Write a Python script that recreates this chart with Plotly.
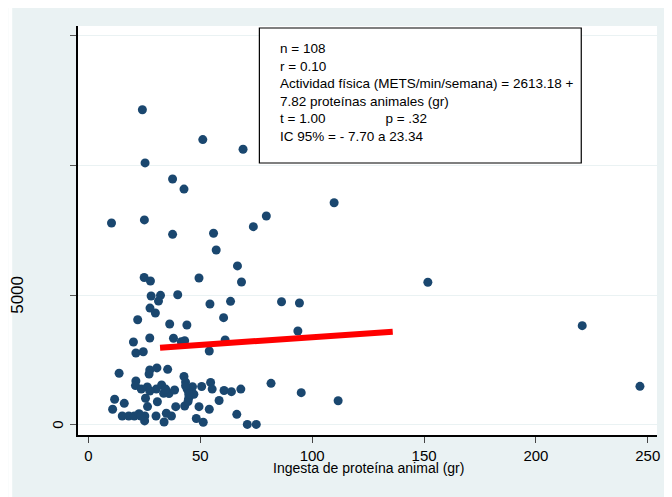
import plotly.graph_objects as go

# Data
protein_gr = [24.1, 51.1, 69.1, 25.3, 37.6, 42.7, 10.3, 25.0, 37.6, 55.9,
              57.1, 66.6, 79.5, 73.7, 109.8, 151.7, 24.9, 27.7, 49.4, 68.4,
              28.0, 32.2, 31.3, 39.9, 54.3, 63.5, 86.3, 94.3, 27.5, 29.9,
              22.0, 36.3, 44.0, 60.4, 93.6, 220.7, 20.1, 27.4, 38.0, 41.5,
              43.0, 61.1, 54.0, 21.2, 24.5, 13.7, 27.4, 27.1, 30.6, 35.4,
              21.2, 21.0, 23.6, 26.3, 30.3, 32.7, 33.6, 36.0, 38.5, 42.7,
              43.4, 44.1, 46.5, 46.4, 50.6, 54.6, 55.3, 60.6, 63.9, 68.1,
              81.6, 95.1, 47.1, 44.8, 11.7, 16.0, 25.5, 30.8, 26.4, 10.8,
              15.1, 18.0, 20.5, 22.6, 25.2, 25.1, 30.2, 34.8, 37.1, 33.8,
              39.0, 43.0, 44.5, 49.4, 54.0, 58.4, 48.2, 51.3, 66.3, 71.0,
              75.0, 111.6, 246.5, 43.4, 44.8, 34.5, 27.4, 23.4]
mets = [12150, 11000, 10625, 10100, 9480, 9090, 7780, 7900, 7345, 7385,
        6740, 6125, 8050, 7640, 8565, 5495, 5680, 5545, 5660, 5505,
        4965, 4990, 4770, 5015, 4655, 4760, 4745, 4695, 4500, 4310,
        4050, 3885, 3845, 4130, 3615, 3820, 3190, 3345, 3335, 3200,
        3240, 3270, 2845, 2765, 2815, 1985, 2110, 1955, 2190, 2135,
        1685, 1510, 1375, 1455, 1375, 1530, 1210, 1205, 1340, 1860,
        1645, 1375, 1465, 1210, 1475, 1630, 1375, 1320, 1275, 1375,
        1595, 1235, 1175, 1020, 980, 825, 1020, 885, 700, 595,
        335, 335, 335, 425, 335, 145, 335, 440, 335, 105,
        695, 720, 895, 695, 595, 935, 240, 95, 400, 10,
        10, 925, 1480, 1500, 1185, 1375, 1300, 335]

fit_x = [32, 136]
fit_y = [2970, 3590]

x_ticks = [0, 50, 100, 150, 200, 250]
y_ticks = [0, 5000, 10000, 15000]
y_tick_labels_shown = ["0", "5000"]

box_lines = [
    "n = 108",
    "r = 0.10",
    "Actividad física (METS/min/semana) = 2613.18 +",
    "7.82 proteínas animales (gr)",
    "t = 1.00" + "\u00a0" * 16 + "p = .32",
    "IC 95% = - 7.70 a 23.34",
]
x_title = "Ingesta de proteína animal (gr)"

BG = "#EAF2F3"
NAVY = "#1A476F"

# The page body keeps its default 8px margin, so the figure starts at (8, 8)
OFF = 8
W, H = 672 - OFF, 497 - OFF
L, R, T, B = 78 - OFF, 13, 26 - OFF, 62
pw, ph = W - L - R, H - T - B


def px2x(px_ref):
    return (px_ref - OFF - L) / pw


def py2y(py_ref):
    return (H - B - (py_ref - OFF)) / ph


fig = go.Figure()
fig.add_trace(go.Scatter(
    x=protein_gr, y=mets, mode="markers",
    marker=dict(color=NAVY, size=9, line=dict(width=0)),
    showlegend=False, hoverinfo="skip"))
fig.add_trace(go.Scatter(
    x=fit_x, y=fit_y, mode="lines",
    line=dict(color="#FF0000", width=6),
    showlegend=False, hoverinfo="skip"))

shapes = [
    # white strip at the left of the picture
    dict(type="rect", xref="paper", yref="paper", x0=px2x(OFF), x1=px2x(12),
         y0=py2y(497), y1=py2y(OFF), fillcolor="white", line=dict(width=0), layer="below"),
    # text box
    dict(type="rect", xref="paper", yref="paper", x0=px2x(260), x1=px2x(583),
         y0=py2y(163), y1=py2y(28), fillcolor="white",
         line=dict(color="black", width=1.2), layer="above"),
]

annotations = [
    dict(xref="paper", yref="paper", x=px2x(279), y=py2y(39), xanchor="left", yanchor="top",
         text="<br>".join(box_lines), showarrow=False, align="left",
         font=dict(family="Liberation Sans, Arial, sans-serif", size=13.5, color="black")),
    dict(xref="paper", yref="paper", x=px2x(370), y=py2y(468.5), xanchor="center", yanchor="middle",
         text=x_title, showarrow=False,
         font=dict(family="Liberation Sans, Arial, sans-serif", size=14, color="black")),
    dict(xref="paper", yref="y", x=px2x(16.5), y=y_ticks[1], xanchor="center", yanchor="middle",
         text=y_tick_labels_shown[1], textangle=-90, showarrow=False,
         font=dict(family="Liberation Sans, Arial, sans-serif", size=17, color="black")),
    dict(xref="paper", yref="y", x=px2x(58), y=y_ticks[0], xanchor="center", yanchor="middle",
         text=y_tick_labels_shown[0], textangle=-90, showarrow=False,
         font=dict(family="Liberation Sans, Arial, sans-serif", size=15, color="black")),
]

# axis ranges from the reference pixel scale (x: 0 at 88.5px, 2.245 px/unit;
# y: 0 at 424.7px, 0.02592 px/unit)
x_lo = (78 - 88.5) / 2.245
x_hi = (659 - 88.5) / 2.245
y_lo = (424.7 - 435) / 0.02592
y_hi = (424.7 - 26) / 0.02592

fig.update_layout(
    width=W, height=H,
    margin=dict(l=L, r=R, t=T, b=B, pad=0),
    paper_bgcolor=BG, plot_bgcolor="white",
    shapes=shapes, annotations=annotations,
    xaxis=dict(range=[x_lo, x_hi],
               tickmode="array", tickvals=x_ticks, ticktext=[str(v) for v in x_ticks],
               ticks="outside", ticklen=6, tickwidth=1.3, tickcolor="#444",
               showgrid=False, zeroline=False,
               showline=True, linecolor="black", linewidth=1.5,
               tickfont=dict(family="Liberation Sans, Arial, sans-serif", size=15, color="black")),
    yaxis=dict(range=[y_lo, y_hi],
               tickmode="array", tickvals=y_ticks, showticklabels=False,
               ticks="outside", ticklen=6, tickwidth=1.3, tickcolor="#555",
               showgrid=True, gridcolor=BG, gridwidth=1.2, zeroline=False,
               showline=True, linecolor="black", linewidth=1.5),
)

fig.write_html("out.html")
